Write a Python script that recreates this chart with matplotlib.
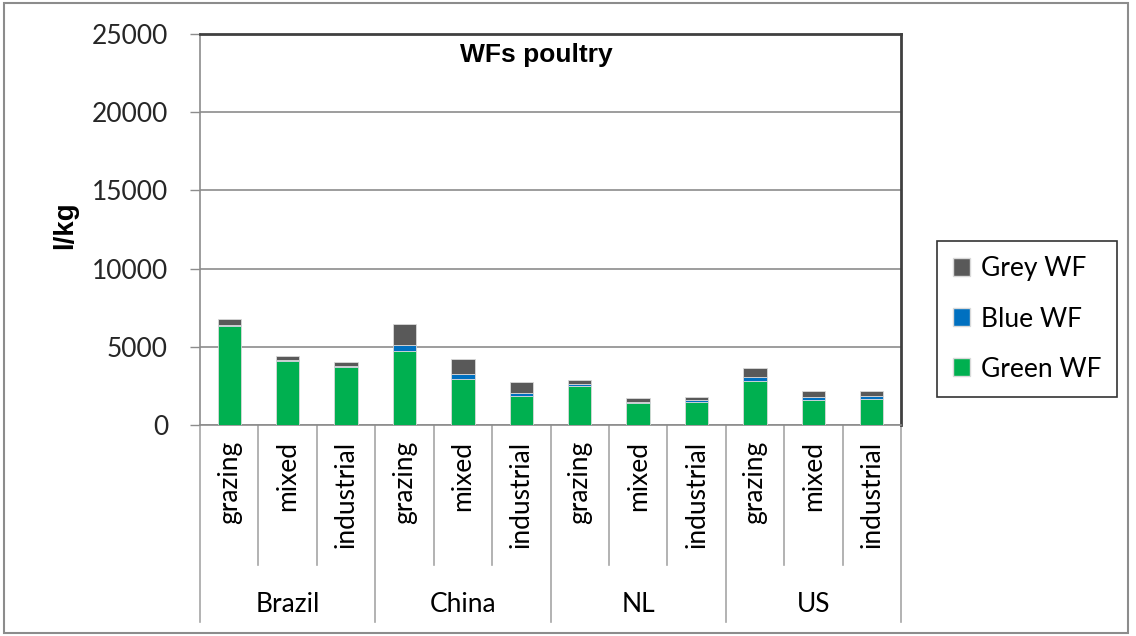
import matplotlib
matplotlib.use("Agg")
import matplotlib.pyplot as plt
import numpy as np
from matplotlib.patches import Patch, Rectangle
import matplotlib.transforms as mtransforms

# data (l/kg)
countries = ["Brazil", "China", "NL", "US"]
systems = ["grazing", "mixed", "industrial"]
green_wf = [6300, 4100, 3730, 4730, 2960, 1880, 2490, 1390, 1490, 2790, 1600, 1680]
blue_wf = [100, 30, 20, 360, 320, 190, 110, 100, 110, 260, 190, 190]
grey_wf = [400, 250, 250, 1390, 920, 660, 280, 210, 170, 570, 380, 300]
y_ticks = [0, 5000, 10000, 15000, 20000, 25000]

W, H = 1136, 636
fig = plt.figure(figsize=(W / 100, H / 100), dpi=100)
plt.rcParams['font.family'] = ['Lato', 'DejaVu Sans']

# outer frame of the chart
fig.patches.append(Rectangle((4 / W, 3 / H), (1128 - 4) / W, (633 - 3) / H,
                             transform=fig.transFigure, fill=False,
                             edgecolor="#8c8c8c", lw=1.5))

left, right, top, bottom = 200, 901, 34, 425
ax = fig.add_axes([left / W, (H - bottom) / H, (right - left) / W, (bottom - top) / H])

x = np.arange(len(green_wf))
g = np.array(green_wf)
b = np.array(blue_wf)
gr = np.array(grey_wf)
bw = 0.4
ax.bar(x, g, bw, color="#00B050", edgecolor="#d9d9d9", lw=0.6, zorder=3)
ax.bar(x, b, bw, bottom=g, color="#0070C0", edgecolor="#d9d9d9", lw=0.6, zorder=3)
ax.bar(x, gr, bw, bottom=g + b, color="#595959", edgecolor="#d9d9d9", lw=0.6, zorder=3)

ax.set_xlim(-0.5, len(x) - 0.5)
ax.set_ylim(0, 25000)
ax.set_yticks(y_ticks)
ax.set_yticklabels([str(v) for v in y_ticks], fontsize=19, color="#262626")
ax.tick_params(axis="y", length=7, width=1, color="#8c8c8c", pad=16, direction="out")
ax.set_xticks([])
ax.yaxis.grid(True, color="#8c8c8c", lw=1.2)
ax.set_axisbelow(True)

for s in ["left", "bottom"]:
    ax.spines[s].set_color("#8c8c8c")
    ax.spines[s].set_linewidth(1.2)
for s in ["top", "right"]:
    ax.spines[s].set_color("#404040")
    ax.spines[s].set_linewidth(2)

ax.set_title("WFs poultry", fontsize=19, fontweight="bold", family="Liberation Sans",
             y=0.925, x=0.48, va="center")
fig.text(65 / W, 1 - 225 / H, "l/kg", rotation=90, fontsize=20, fontweight="bold",
         family="Liberation Sans", ha="center", va="center")

# category axis with nested labels
trans = mtransforms.blended_transform_factory(ax.transData, ax.transAxes)
ph = bottom - top
y_inner = -(565 - bottom) / ph
y_outer = -(622 - bottom) / ph
y_group = -(605 - bottom) / ph
for i, v in enumerate(x):
    ax.text(v, -(441 - bottom) / ph, systems[i % 3], rotation=90, ha="center", va="top",
            fontsize=19, transform=trans)
for k in range(len(x) + 1):
    xb = k - 0.5
    yb = y_outer if k % 3 == 0 else y_inner
    ax.plot([xb, xb], [0, yb], color="#a6a6a6", lw=1.2, transform=trans, clip_on=False)
for j, c in enumerate(countries):
    ax.text(3 * j + 1, y_group, c, ha="center", va="center", fontsize=19, transform=trans)

handles = [Patch(facecolor="#595959", edgecolor="#d9d9d9", label="Grey WF"),
           Patch(facecolor="#0070C0", edgecolor="#d9d9d9", label="Blue WF"),
           Patch(facecolor="#00B050", edgecolor="#d9d9d9", label="Green WF")]
leg = fig.legend(handles=handles, loc="center", bbox_to_anchor=(1027 / W, 1 - 319 / H),
                 fontsize=19, frameon=True, fancybox=False, edgecolor="black",
                 handlelength=0.65, handleheight=0.65, handletextpad=0.4,
                 labelspacing=0.95, borderpad=0.6)
leg.get_frame().set_linewidth(1.2)

fig.savefig("out.png", dpi=100)
